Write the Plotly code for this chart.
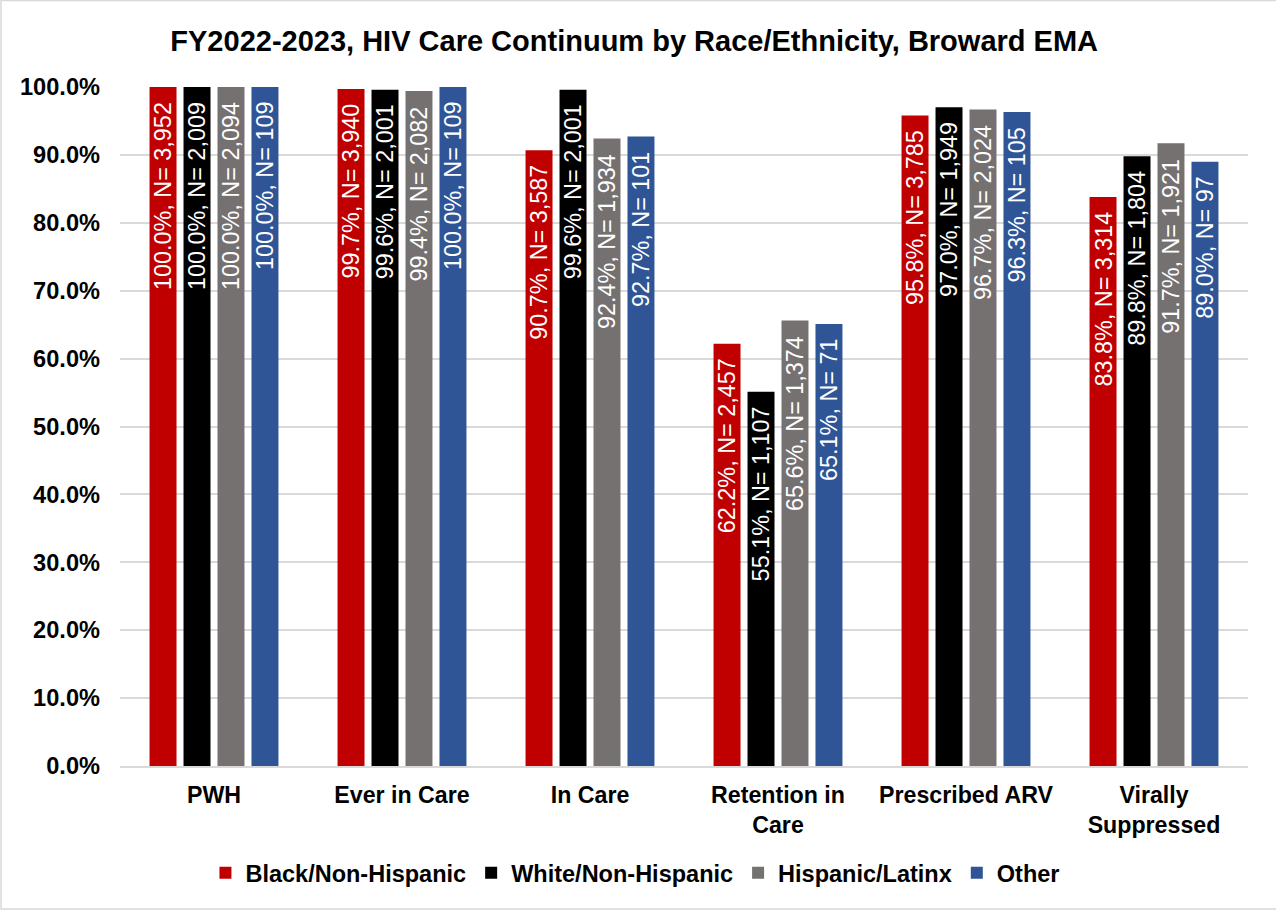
import plotly.graph_objects as go

# Care-continuum stages (x categories)
stages = ["PWH", "Ever in Care", "In Care", "Retention in<br>Care",
          "Prescribed ARV", "Virally<br>Suppressed"]

# Race/ethnicity groups and their colours
groups = ["Black/Non-Hispanic", "White/Non-Hispanic", "Hispanic/Latinx", "Other"]
colors = ["#C00000", "#000000", "#767171", "#2F5597"]

# Percent of PWH at each stage, per group
pct_black = [100.0, 99.7, 90.7, 62.2, 95.8, 83.8]
pct_white = [100.0, 99.6, 99.6, 55.1, 97.0, 89.8]
pct_hisp = [100.0, 99.4, 92.4, 65.6, 96.7, 91.7]
pct_other = [100.0, 100.0, 92.7, 65.1, 96.3, 89.0]

# Client counts at each stage, per group
n_black = [3952, 3940, 3587, 2457, 3785, 3314]
n_white = [2009, 2001, 2001, 1107, 1949, 1804]
n_hisp = [2094, 2082, 1934, 1374, 2024, 1921]
n_other = [109, 109, 101, 71, 105, 97]

# Y-axis ticks
y_ticks = [0, 10, 20, 30, 40, 50, 60, 70, 80, 90, 100]

pct_series = [pct_black, pct_white, pct_hisp, pct_other]
n_series = [n_black, n_white, n_hisp, n_other]

FONT = "Liberation Sans, Arial, sans-serif"
W, H = 1276, 911
ML, MR, MT, MB = 120, 28, 87, 145
plot_w = W - ML - MR
plot_h = H - MT - MB

bargap = 0.277
bargroupgap = 0.206
slot_px = plot_w / len(stages) * (1 - bargap) / len(groups)

fig = go.Figure()
annotations = []
for j, (name, color, pcts, ns) in enumerate(zip(groups, colors, pct_series, n_series)):
    fig.add_trace(go.Bar(
        name=name, x=stages, y=pcts,
        marker=dict(color=color, line=dict(width=0)),
        hoverinfo="skip",
    ))
    shift = (j - (len(groups) - 1) / 2) * slot_px
    for stage, p, n in zip(stages, pcts, ns):
        annotations.append(dict(
            x=stage, y=p, xref="x", yref="y",
            text=f"{p:.1f}%, N= {n:,}",
            textangle=-90, showarrow=False,
            xanchor="center", yanchor="top",
            xshift=shift, yshift=-13,
            font=dict(family=FONT, size=23.4, color="white"),
        ))

fig.update_layout(
    width=W, height=H,
    margin=dict(l=ML, r=MR, t=MT, b=MB),
    paper_bgcolor="white", plot_bgcolor="white",
    barmode="group", bargap=bargap, bargroupgap=bargroupgap,
    title=dict(
        text="FY2022-2023, HIV Care Continuum by Race/Ethnicity, Broward EMA",
        x=0.497, xref="container", xanchor="center",
        y=1 - 41 / H, yref="container", yanchor="middle",
        font=dict(family=FONT, size=29, color="black", weight="bold"),
    ),
    legend=dict(
        orientation="h",
        x=0.498, xref="container", xanchor="center",
        y=1 - 873 / H, yref="container", yanchor="middle",
        font=dict(family=FONT, size=23.5, color="black", weight="bold"),
        itemclick=False, itemdoubleclick=False,
        traceorder="normal",
    ),
    annotations=annotations,
    showlegend=True,
)

fig.update_yaxes(
    range=[0, 100], tickvals=y_ticks,
    ticktext=[f"{v:.1f}%" for v in y_ticks],
    showgrid=True, gridcolor="#D9D9D9", gridwidth=1.5,
    zeroline=False, showline=False, ticks="",
    ticklabelstandoff=19,
    tickfont=dict(family=FONT, size=23.6, color="black", weight="bold"),
)
fig.update_xaxes(
    showline=True, linecolor="#D9D9D9", linewidth=2,
    ticks="", showgrid=False,
    ticklabelstandoff=7,
    tickfont=dict(family=FONT, size=23.2, color="black", weight="bold"),
)

# Outer chart frame
fig.add_shape(
    type="rect", xref="paper", yref="paper",
    x0=(1 - ML) / plot_w, x1=(W + 5 - ML) / plot_w,
    y0=(MT + plot_h - 909) / plot_h, y1=(MT + plot_h - 0.5) / plot_h,
    line=dict(color="#D9D9D9", width=1.5), fillcolor="rgba(0,0,0,0)",
    layer="above",
)

fig.write_html("out.html")
